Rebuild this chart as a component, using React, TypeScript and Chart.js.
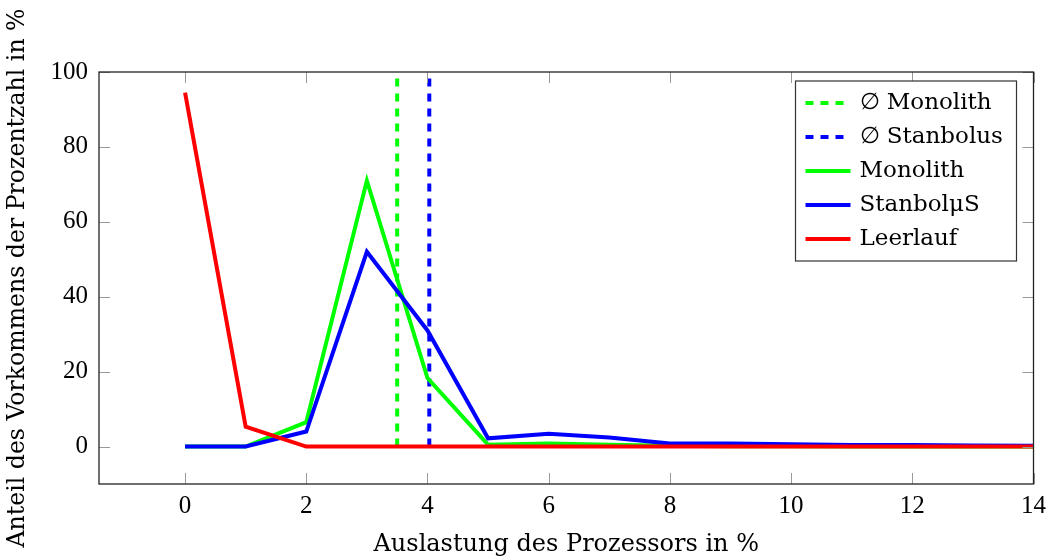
import React, { useEffect, useRef } from "react";
import { Chart, registerables } from "chart.js";

Chart.register(...registerables);

const xValues = [0, 1, 2, 3, 4, 5, 6, 7, 8, 9, 10, 11, 12, 13, 14];
const monolith = [0, 0, 6.5, 71, 18.3, 0.5, 0.8, 0.5, 0.2, 0.1, 0.1, 0, 0, 0, 0];
const stanbolus = [0, 0, 4, 52, 31, 2.2, 3.4, 2.4, 0.8, 0.8, 0.6, 0.4, 0.4, 0.3, 0.2];
const leerlauf = [94.5, 5.3, 0, 0, 0, 0, 0, 0, 0, 0, 0, 0, 0, 0, 0];
const avgMonolith = 3.5;
const avgStanbolus = 4.03;
const xTicks = [0, 2, 4, 6, 8, 10, 12, 14];
const yTicks = [0, 20, 40, 60, 80, 100];
const labels = ["∅ Monolith", "∅ Stanbolus", "Monolith", "StanbolμS", "Leerlauf"];

const FONT = "'DejaVu Serif', serif";
const TICKFONT = "'Liberation Serif', serif";

const framePlugin = {
  id: "frame",
  afterDatasetsDraw(chart: any) {
    const { ctx, chartArea } = chart;
    const { left, right, top, bottom } = chartArea;
    const xs = chart.scales.x;
    const ys = chart.scales.y;
    ctx.save();
    ctx.strokeStyle = "#999";
    ctx.lineWidth = 1;
    const tl = 11;
    for (const v of xTicks) {
      const px = Math.round(xs.getPixelForValue(v)) + 0.5;
      ctx.beginPath();
      ctx.moveTo(px, bottom);
      ctx.lineTo(px, bottom - tl);
      ctx.moveTo(px, top);
      ctx.lineTo(px, top + tl);
      ctx.stroke();
    }
    for (const v of yTicks) {
      const py = Math.round(ys.getPixelForValue(v)) + 0.5;
      ctx.beginPath();
      ctx.moveTo(left, py);
      ctx.lineTo(left + tl, py);
      ctx.moveTo(right, py);
      ctx.lineTo(right - tl, py);
      ctx.stroke();
    }
    ctx.strokeStyle = "#222";
    ctx.lineWidth = 1.3;
    ctx.strokeRect(left, top, right - left, bottom - top);

    // legend
    const bw = 221;
    const bh = 180;
    const bx = right - 17 - bw;
    const by = top + 9;
    ctx.fillStyle = "#fff";
    ctx.fillRect(bx, by, bw, bh);
    ctx.strokeStyle = "#333";
    ctx.lineWidth = 1.2;
    ctx.strokeRect(bx, by, bw, bh);
    const dsOrder = [0, 1, 2, 3, 4];
    dsOrder.forEach((di, i) => {
      const ds = chart.data.datasets[di];
      const cy = by + 22 + i * 34;
      ctx.save();
      ctx.strokeStyle = ds.borderColor;
      ctx.lineWidth = 4;
      ctx.setLineDash(ds.borderDash || []);
      ctx.beginPath();
      ctx.moveTo(bx + 10, cy);
      ctx.lineTo(bx + 55, cy);
      ctx.stroke();
      ctx.restore();
      ctx.fillStyle = "#000";
      ctx.font = `23px ${FONT}`;
      ctx.textBaseline = "middle";
      ctx.textAlign = "left";
      ctx.fillText(ds.label, bx + 64, cy);
    });
    ctx.restore();
  },
};

export default function App() {
  const ref = useRef<HTMLCanvasElement | null>(null);
  useEffect(() => {
    document.body.style.margin = "0";
    const canvas = ref.current!;
    const toPts = (ys: number[]) => xValues.map((x, i) => ({ x, y: ys[i] }));
    const chart = new Chart(canvas, {
      type: "line",
      data: {
        datasets: [
          {
            label: labels[0],
            data: [
              { x: avgMonolith, y: 0 },
              { x: avgMonolith, y: 100 },
            ],
            borderColor: "#00ff00",
            borderDash: [8, 7],
            borderWidth: 4,
            pointRadius: 0,
            order: 5,
          },
          {
            label: labels[1],
            data: [
              { x: avgStanbolus, y: 0 },
              { x: avgStanbolus, y: 100 },
            ],
            borderColor: "#0000ff",
            borderDash: [8, 7],
            borderWidth: 4,
            pointRadius: 0,
            order: 4,
          },
          {
            label: labels[2],
            data: toPts(monolith),
            borderColor: "#00ff00",
            borderWidth: 4,
            pointRadius: 0,
            order: 3,
          },
          {
            label: labels[3],
            data: toPts(stanbolus),
            borderColor: "#0000ff",
            borderWidth: 4,
            pointRadius: 0,
            order: 2,
          },
          {
            label: labels[4],
            data: toPts(leerlauf),
            borderColor: "#ff0000",
            borderWidth: 4,
            pointRadius: 0,
            order: 1,
          },
        ],
      },
      options: {
        animation: false,
        responsive: false,
        devicePixelRatio: 1,
        layout: { padding: { top: 72, right: 17, left: 0, bottom: 0 } },
        plugins: { legend: { display: false }, tooltip: { enabled: false } },
        elements: { line: { tension: 0, borderJoinStyle: "miter" } },
        scales: {
          x: {
            type: "linear",
            min: -1.42,
            max: 14,
            afterBuildTicks: (s: any) => {
              s.ticks = xTicks.map((v) => ({ value: v }));
            },
            afterFit: (s: any) => {
              s.height = 74;
            },
            grid: { display: false, drawTicks: false },
            border: { display: false },
            ticks: {
              color: "#000",
              padding: 7,
              font: { family: TICKFONT, size: 25 },
              maxRotation: 0,
            },
            title: {
              display: true,
              text: "Auslastung des Prozessors in %",
              color: "#000",
              font: { family: FONT, size: 24, lineHeight: 1.1 },
              padding: { top: 0, bottom: 0 },
            },
          },
          y: {
            min: -10,
            max: 100,
            afterBuildTicks: (s: any) => {
              s.ticks = yTicks.map((v) => ({ value: v }));
            },
            afterFit: (s: any) => {
              s.width = 99;
            },
            grid: { display: false, drawTicks: false },
            border: { display: false },
            ticks: {
              color: "#000",
              padding: 11,
              font: { family: TICKFONT, size: 25 },
            },
            title: {
              display: true,
              text: "Anteil des Vorkommens der Prozentzahl in %",
              color: "#000",
              font: { family: FONT, size: 23.6 },
              padding: { top: 4, bottom: 0 },
            },
          },
        },
      },
      plugins: [framePlugin],
    });
    return () => chart.destroy();
  }, []);
  return (
    <div style={{ width: 1053, height: 558 }}>
      <canvas ref={ref} width={1053} height={558} />
    </div>
  );
}
